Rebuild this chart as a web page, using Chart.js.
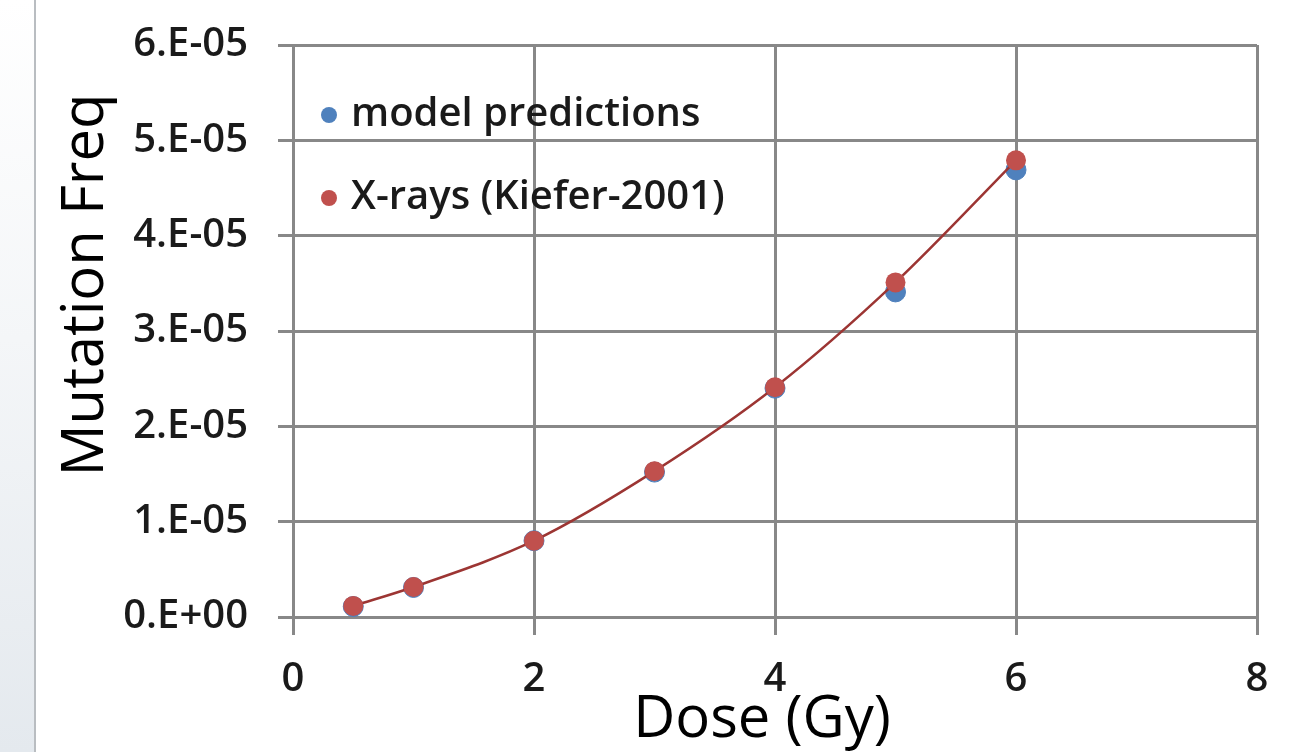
<!DOCTYPE html>
<html>
<head>
<meta charset="utf-8">
<script src="https://cdn.jsdelivr.net/npm/chart.js@4.4.0/dist/chart.umd.min.js"></script>
<style>
  html, body { margin: 0; padding: 0; background: #fff; }
  #faixa {
    position: absolute; left: 0; top: 0; width: 34px; height: 752px;
    background: linear-gradient(to bottom, #ffffff 0%, #f4f6f8 45%, #e4e9ee 100%);
    border-right: 2px solid #b9bdc1;
  }
  #grafico { position: absolute; left: 0; top: 0; }
</style>
</head>
<body>
<div id="faixa"></div>
<canvas id="grafico" width="1303" height="752"></canvas>
<script>
// dados
const doses = [0.5, 1, 2, 3, 4, 5, 6];
const modelo = [1.1e-6, 3.1e-6, 8.0e-6, 1.52e-5, 2.40e-5, 3.41e-5, 4.69e-5];
const kiefer = [1.16e-6, 3.15e-6, 8.0e-6, 1.53e-5, 2.41e-5, 3.51e-5, 4.79e-5];
const rotulosY = ['0.E+00', '1.E-05', '2.E-05', '3.E-05', '4.E-05', '5.E-05', '6.E-05'];
const rotulosX = ['0', '2', '4', '6', '8'];
const nomes = ['model predictions', 'X-rays (Kiefer-2001)'];
const tituloX = 'Dose (Gy)';
const tituloY = 'Mutation Freq';

const azul = '#4f81bd';
const vermelho = '#c0504d';
const corGrade = '#888888';
const fonte = "'Open Sans', sans-serif";

function pontos(ys) {
    return doses.map((d, i) => ({ x: d, y: ys[i] }));
}

// legenda e títulos dos eixos desenhados à mão
const extras = {
    id: 'extras',
    afterDraw(chart) {
        const ctx = chart.ctx;
        const itens = [
            { texto: nomes[0], cor: azul, y: 115 },
            { texto: nomes[1], cor: vermelho, y: 198 },
        ];
        ctx.save();
        ctx.font = '600 40px ' + fonte;
        ctx.textBaseline = 'middle';
        itens.forEach(item => {
            ctx.beginPath();
            ctx.fillStyle = item.cor;
            ctx.arc(329, item.y, 8, 0, Math.PI * 2);
            ctx.fill();
            ctx.fillStyle = '#1a1a1a';
            ctx.fillText(item.texto, 351, item.y);
        });

        ctx.fillStyle = '#000';
        ctx.font = '58px ' + fonte;
        ctx.textAlign = 'center';
        ctx.fillText(tituloX, 762, 720);

        ctx.translate(86, 285);
        ctx.rotate(-Math.PI / 2);
        ctx.fillText(tituloY, 0, 0);
        ctx.restore();
    }
};

new Chart(document.getElementById('grafico'), {
    type: 'scatter',
    data: {
        datasets: [
            {
                label: nomes[0],
                data: pontos(modelo),
                backgroundColor: azul,
                borderColor: azul,
                pointRadius: 10,
                showLine: false,
                order: 2,
            },
            {
                label: nomes[1],
                data: pontos(kiefer),
                backgroundColor: vermelho,
                borderColor: '#9c3533',
                borderWidth: 2.5,
                pointBorderWidth: 0,
                pointRadius: 10,
                showLine: true,
                cubicInterpolationMode: 'monotone',
                order: 1,
            },
        ]
    },
    options: {
        responsive: false,
        animation: false,
        layout: { padding: { left: 50, top: 45, right: 46, bottom: 0 } },
        plugins: {
            legend: { display: false },
            tooltip: { enabled: false },
        },
        scales: {
            x: {
                type: 'linear',
                min: 0,
                max: 8,
                afterFit: s => { s.height = 135; s.paddingLeft = 0; s.paddingRight = 0; },
                ticks: {
                    stepSize: 2,
                    padding: 21,
                    color: '#1a1a1a',
                    font: { family: fonte, size: 40, weight: 600 },
                    callback: (v, i) => rotulosX[i],
                },
                grid: { color: corGrade, lineWidth: 3, tickLength: 18 },
                border: { color: corGrade, width: 3 },
            },
            y: {
                min: 0,
                max: 6e-5,
                afterFit: s => { s.width = 243; s.paddingTop = 0; s.paddingBottom = 0; },
                ticks: {
                    stepSize: 1e-5,
                    padding: 30,
                    color: '#1a1a1a',
                    font: { family: fonte, size: 40, weight: 600 },
                    callback: (v, i) => rotulosY[i],
                },
                grid: { color: corGrade, lineWidth: 3, tickLength: 15 },
                border: { color: corGrade, width: 3 },
            },
        },
    },
    plugins: [extras],
});
</script>
</body>
</html>
